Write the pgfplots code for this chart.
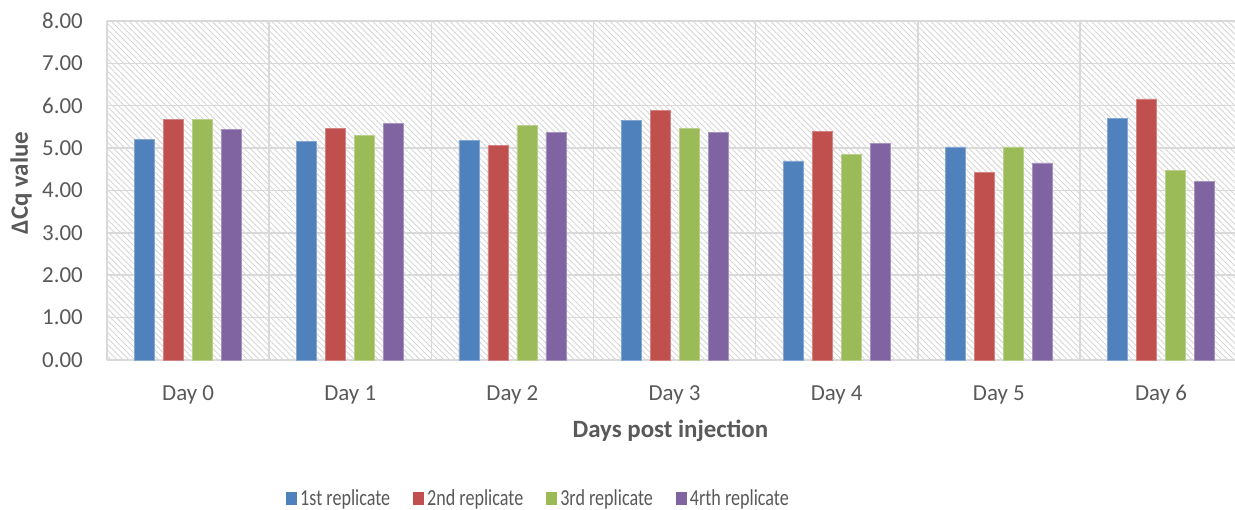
\documentclass[border=0pt]{standalone}
\usepackage{fontspec}
\setmainfont{Carlito}
\usepackage{graphicx}
\usepackage{pgfplots}
\pgfplotsset{compat=1.18}
\usetikzlibrary{patterns.meta}
\definecolor{cblue}{HTML}{4F81BD}
\definecolor{cred}{HTML}{C0504D}
\definecolor{cgreen}{HTML}{9BBB59}
\definecolor{cpurple}{HTML}{8064A2}
\definecolor{tgray}{HTML}{595959}
\definecolor{ggray}{HTML}{D9D9D9}
\begin{document}
\begin{tikzpicture}
\useasboundingbox (-107bp,-150bp) rectangle (1128bp,360bp);
\begin{axis}[
  at={(0,0)}, anchor=south west,
  scale only axis,
  width=1128bp, height=339bp,
  xmin=-0.5, xmax=6.456,
  ymin=0, ymax=8,
  ytick={0,1,...,8},
  xtick={0,1,2,3,4,5,6},
  xticklabels={Day 0,Day 1,Day 2,Day 3,Day 4,Day 5,Day 6},
  minor xtick={-0.5,0.5,1.5,2.5,3.5,4.5,5.5},
  xminorgrids=true, xmajorgrids=false, ymajorgrids=true,
  major grid style={draw=ggray, line width=1.5bp},
  minor grid style={draw=ggray, line width=1.5bp},
  major tick length=0pt, minor tick length=0pt,
  axis line style={draw=none},
  axis background/.style={pattern={Lines[angle=-45,distance=4.2bp,line width=0.9bp]}, pattern color=black!16},
  /pgf/number format/assume math mode=true,
  /pgf/number format/.cd, fixed, fixed zerofill, precision=2, /pgfplots/.cd,
  yticklabel style={font=\fontsize{23}{26}\selectfont, text=tgray, anchor=east, inner sep=0pt, xshift=-24bp},
  xticklabel style={font=\fontsize{23}{26}\selectfont, text=tgray, anchor=base, inner sep=0pt, yshift=-40.5bp},
  xlabel={Days post injection},
  ylabel={ΔCq value},
  xlabel style={font=\fontsize{25}{28}\selectfont\bfseries, text=tgray, at={(axis description cs:0.4995,-0.209)}, anchor=center},
  ylabel style={font=\fontsize{25}{28}\selectfont\bfseries, text=tgray, at={(axis description cs:-0.0762,0.522)}, anchor=center},
  ybar=9bp, bar width=20bp,
  legend columns=4,
  legend style={draw=none, fill=none, inner sep=0pt, at={(axis description cs:0.1587,-0.4071)}, anchor=west,
    font=\fontsize{23}{26}\selectfont, text=tgray,
    nodes={inner sep=0pt},
    /tikz/every odd column/.append style={column sep=3bp},
    /tikz/every even column/.append style={column sep=23bp}},
  legend image code/.code={\path[#1,draw=none] (0bp,-6.5bp) rectangle (11bp,6.5bp);},
  legend cell align=left,
]
\addplot[fill=cblue, draw=cblue!70!white, line width=0.6bp] coordinates {(0,5.21) (1,5.16) (2,5.18) (3,5.65) (4,4.70) (5,5.03) (6,5.70)};
\addplot[fill=cred, draw=cred!70!white, line width=0.6bp] coordinates {(0,5.68) (1,5.47) (2,5.06) (3,5.89) (4,5.39) (5,4.43) (6,6.16)};
\addplot[fill=cgreen, draw=cgreen!70!white, line width=0.6bp] coordinates {(0,5.68) (1,5.30) (2,5.53) (3,5.47) (4,4.85) (5,5.03) (6,4.47)};
\addplot[fill=cpurple, draw=cpurple!70!white, line width=0.6bp] coordinates {(0,5.45) (1,5.59) (2,5.37) (3,5.37) (4,5.11) (5,4.65) (6,4.22)};
\legend{\scalebox{0.79}[1]{1st replicate},\scalebox{0.79}[1]{2nd replicate},\scalebox{0.79}[1]{3rd replicate},\scalebox{0.79}[1]{4rth replicate}}
\end{axis}
\end{tikzpicture}
\end{document}
